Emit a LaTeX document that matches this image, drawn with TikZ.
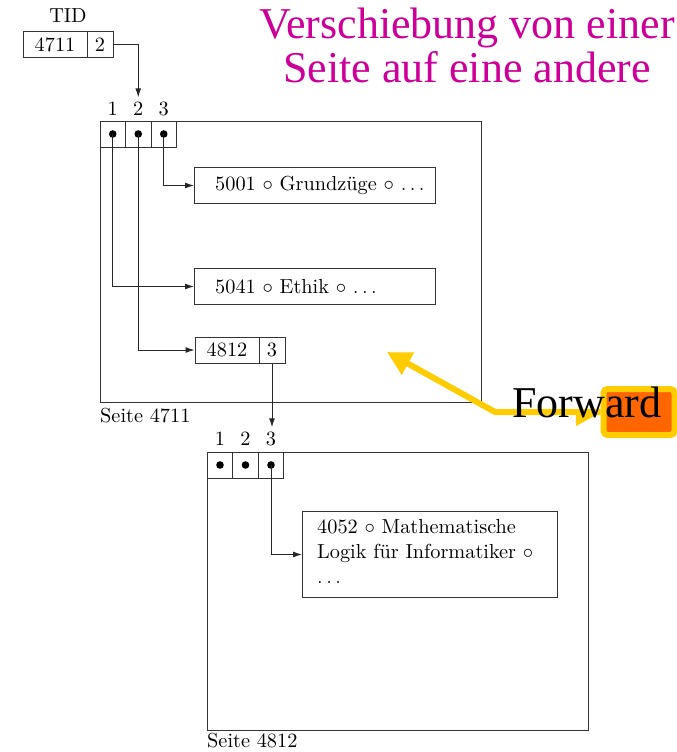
\documentclass[tikz,border=0pt]{standalone}
\usepackage{fontspec}
\newfontfamily\tnr{Liberation Serif}
\newfontfamily\lmten{lmroman10-regular.otf}
\usetikzlibrary{arrows.meta}
\definecolor{titlemag}{RGB}{204,0,153}
\definecolor{fyellow}{RGB}{255,204,0}
\definecolor{forange}{RGB}{255,102,0}
\begin{document}
\begin{tikzpicture}[x=1pt,y=-1pt,
  every node/.style={font=\lmten\fontsize{20.3}{25}\selectfont, inner sep=0pt},
  ln/.style={draw=black!80, line width=1pt},
  cell/.style={ln, minimum height=26pt, text height=13.5pt, text depth=0pt},
  slot/.style={ln, minimum width=25.5pt, minimum height=26pt},
  rec/.style={ln, anchor=north west},
  lbl/.style={anchor=base, inner sep=4pt},
  arr/.style={draw=black!85, line width=1pt, -{Latex[length=9pt,width=6pt]}},
  bigtext/.style={font=\tnr\fontsize{44}{44}\selectfont},
  yarrow/.style={draw=fyellow, line width=6pt, -{Triangle[length=24pt,width=24pt]}}
]
\path[use as bounding box] (0,0) rectangle (677,752);

% title
\node[bigtext, text=titlemag, anchor=base] (ti1) at (467,39) {Verschiebung von einer};
\node[bigtext, text=titlemag, anchor=base] (ti2) at (467,82) {Seite auf eine andere};

% TID
\node[anchor=base] (tid) at (68,23) {TID};
\node[cell, minimum width=64pt] (tidA) at (55,45) {4711};
\node[cell, minimum width=26pt] (tidB) at (100,45) {2};

% page 4711
\node[rec, minimum width=381pt, minimum height=281pt] (p1) at (100,121) {};
\node[slot] (s11) at (112.75,134) {};
\node[slot] (s12) at (138.25,134) {};
\node[slot] (s13) at (163.75,134) {};
\node[lbl] (l11) at (112.75,115) {1};
\node[lbl] (l12) at (138.25,115) {2};
\node[lbl] (l13) at (163.75,115) {3};
\node[anchor=base west] (seite1) at (100,422) {Seite 4711};

\node[rec, minimum width=241pt, minimum height=36pt] (b5001) at (194,167) {};
\node[anchor=base west] (t5001) at (215,190) {5001 $\circ$ Grundzüge $\circ$ $\ldots$};
\node[rec, minimum width=241pt, minimum height=36pt] (b5041) at (194,268) {};
\node[anchor=base west] (t5041) at (215,293) {5041 $\circ$ Ethik $\circ$ $\ldots$};
\node[cell, minimum width=64pt] (c48) at (227,350) {4812};
\node[cell, minimum width=26pt] (c3) at (272,350) {3};

% page 4812
\node[rec, minimum width=381pt, minimum height=278pt] (p2) at (207,452) {};
\node[slot] (s21) at (220,465) {};
\node[slot] (s22) at (245.5,465) {};
\node[slot] (s23) at (271,465) {};
\node[lbl] (l21) at (220,445) {1};
\node[lbl] (l22) at (245.5,445) {2};
\node[lbl] (l23) at (271,445) {3};
\node[anchor=base west] (seite2) at (207,747) {Seite 4812};
\node[rec, minimum width=255pt, minimum height=86pt] (b4052) at (302,511) {};
\node[anchor=base west, align=left] (t4052) at (317,583)
  {4052 $\circ$ Mathematische\\Logik für Informatiker $\circ$\\$\ldots$};

% dots
\foreach \s in {s11,s12,s13,s21,s22,s23}
  \fill (\s.center) circle (3.8pt);

% connectors
\draw[arr] (tidB.east) -| (l12.north);
\draw[arr] (s13.center) |- (b5001.west);
\draw[arr] (s11.center) |- (b5041.west);
\draw[arr] (s12.center) |- (c48.west);
\draw[arr] (c3.south) -- (c3.south |- l23.north);
\draw[arr] (s23.center) |- (b4052.west);

% forward annotation
\node[draw=fyellow, line width=6pt, fill=forange, rounded corners=4pt,
      minimum width=71pt, minimum height=46pt] (fb) at (639,412) {};
\coordinate (bend) at (495,412);
\coordinate (tgt) at (387,352);
\draw[yarrow] (fb.west) -- (bend) -- (tgt);
\fill[fyellow] (576,410) -- (576,426) -- (598,414) -- cycle;
\node[bigtext, anchor=base west] (fw) at (512,417) {Forward};
\end{tikzpicture}
\end{document}
